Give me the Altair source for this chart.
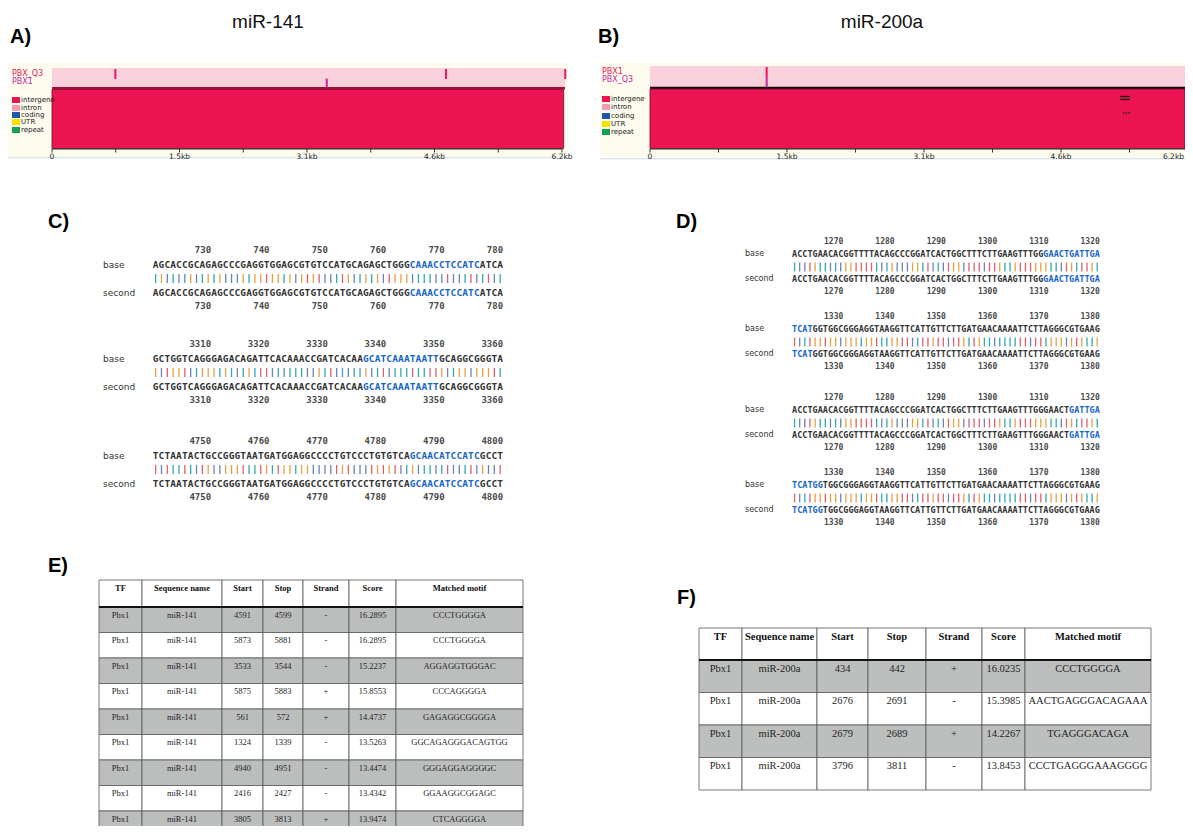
import altair as alt
import pandas as pd

# ---------------- values ----------------
A_TITLE = "miR-141"
B_TITLE = "miR-200a"
PANEL_LETTERS = ["A)", "B)", "C)", "D)", "E)", "F)"]

KB_TICKS = [0, 0.775, 1.55, 2.325, 3.1, 3.875, 4.65, 5.425, 6.2]
KB_LABEL_POS = [0, 1.55, 3.1, 4.65, 6.2]
KB_LABELS = ["0", "1.5kb", "3.1kb", "4.6kb", "6.2kb"]

LEGEND_NAMES = ["intergene", "intron", "coding", "UTR", "repeat"]
LEGEND_COLORS = ["#ec1452", "#f39bb6", "#1f58a8", "#f3e300", "#12a150"]
TRACK_COLORS = ["#e8175d", "#c42a9c"]

A_TRACKS = ["PBX_Q3", "PBX1"]
A_SITES_KB = [[0.77, 4.79, 6.24], [3.34]]
B_TRACKS = ["PBX1", "PBX_Q3"]
B_SITES_KB = [[1.32], [1.32]]
B_REPEAT_KB = [5.32, 5.43]
B_DOTS_KB = [5.36, 5.39, 5.42]

C_STARTS = [721, 3301, 4741]
C_SEQS = [
    "AGCACCGCAGAGCCCGAGGTGGAGCGTGTCCATGCAGAGCTGGGCAAACCTCCATCATCA",
    "GCTGGTCAGGGAGACAGATTCACAAACCGATCACAAGCATCAAATAATTGCAGGCGGGTA",
    "TCTAATACTGCCGGGTAATGATGGAGGCCCCTGTCCCTGTGTCAGCAACATCCATCGCCT",
]
C_HIGHLIGHT = [(44, 56), (36, 49), (44, 56)]
C_NUMBERS = [
    [730, 740, 750, 760, 770, 780],
    [3310, 3320, 3330, 3340, 3350, 3360],
    [4750, 4760, 4770, 4780, 4790, 4800],
]

D_STARTS = [1261, 1321, 1261, 1321]
D_SEQS = [
    "ACCTGAACACGGTTTTACAGCCCGGATCACTGGCTTTCTTGAAGTTTGGGAACTGATTGA",
    "TCATGGTGGCGGGAGGTAAGGTTCATTGTTCTTGATGAACAAAATTCTTAGGGCGTGAAG",
    "ACCTGAACACGGTTTTACAGCCCGGATCACTGGCTTTCTTGAAGTTTGGGAACTGATTGA",
    "TCATGGTGGCGGGAGGTAAGGTTCATTGTTCTTGATGAACAAAATTCTTAGGGCGTGAAG",
]
D_HIGHLIGHT = [(49, 60), (0, 4), (54, 60), (0, 6)]
D_NUMBERS = [
    [1270, 1280, 1290, 1300, 1310, 1320],
    [1330, 1340, 1350, 1360, 1370, 1380],
    [1270, 1280, 1290, 1300, 1310, 1320],
    [1330, 1340, 1350, 1360, 1370, 1380],
]
BASE_COLORS = {"A": "#2fa9b4", "C": "#6b84b4", "G": "#e8a13f", "T": "#e0606f"}

TABLE_HEADER = ["TF", "Sequence name", "Start", "Stop", "Strand", "Score", "Matched motif"]
E_ROWS = [
    ["Pbx1", "miR-141", "4591", "4599", "-", "16.2895", "CCCTGGGGA"],
    ["Pbx1", "miR-141", "5873", "5881", "-", "16.2895", "CCCTGGGGA"],
    ["Pbx1", "miR-141", "3533", "3544", "-", "15.2237", "AGGAGGTGGGAC"],
    ["Pbx1", "miR-141", "5875", "5883", "+", "15.8553", "CCCAGGGGA"],
    ["Pbx1", "miR-141", "561", "572", "+", "14.4737", "GAGAGGCGGGGA"],
    ["Pbx1", "miR-141", "1324", "1339", "-", "13.5263", "GGCAGAGGGACAGTGG"],
    ["Pbx1", "miR-141", "4940", "4951", "-", "13.4474", "GGGAGGAGGGGC"],
    ["Pbx1", "miR-141", "2416", "2427", "-", "13.4342", "GGAAGGCGGAGC"],
    ["Pbx1", "miR-141", "3805", "3813", "+", "13.9474", "CTCAGGGGA"],
]
F_ROWS = [
    ["Pbx1", "miR-200a", "434", "442", "+", "16.0235", "CCCTGGGGA"],
    ["Pbx1", "miR-200a", "2676", "2691", "-", "15.3985", "AACTGAGGGACAGAAA"],
    ["Pbx1", "miR-200a", "2679", "2689", "+", "14.2267", "TGAGGGACAGA"],
    ["Pbx1", "miR-200a", "3796", "3811", "-", "13.8453", "CCCTGAGGGAAAGGGG"],
]

# ---------------- layout (page pixels) ----------------
LEFT_X0, RIGHT_X0 = 8, 598
LEFT_W, RIGHT_W = 590, 587
ROW_Y0 = [8, 168, 530]
ROW_H = [160, 362, 296]

SANS = "Liberation Sans"
MONO = "DejaVu Sans Mono"
SERIF = "Liberation Serif"


def qx(domain):
    return alt.Scale(domain=list(domain), nice=False, zero=False)


def qy(domain):
    return alt.Scale(domain=list(domain), nice=False, zero=False, reverse=True)


def enc_xy(sx, sy):
    return dict(x=alt.X("x:Q", scale=sx, axis=None), y=alt.Y("y:Q", scale=sy, axis=None))


def rect_layer(rows, sx, sy, **mk):
    return alt.Chart(pd.DataFrame(rows)).mark_rect(**mk).encode(
        x2="x2:Q", y2="y2:Q", color=alt.Color("c:N", scale=None), **enc_xy(sx, sy))


def text_layer(rows, sx, sy, **mk):
    return alt.Chart(pd.DataFrame(rows)).mark_text(**mk).encode(
        text="t:N", color=alt.Color("c:N", scale=None), **enc_xy(sx, sy))


def vrule_layer(rows, sx, sy, **mk):
    return alt.Chart(pd.DataFrame(rows)).mark_rule(**mk).encode(
        y2="y2:Q", color=alt.Color("c:N", scale=None), **enc_xy(sx, sy))


def hrule_layer(rows, sx, sy, **mk):
    return alt.Chart(pd.DataFrame(rows)).mark_rule(**mk).encode(
        x2="x2:Q", color=alt.Color("c:N", scale=None), **enc_xy(sx, sy))


def point_layer(rows, sx, sy, **mk):
    return alt.Chart(pd.DataFrame(rows)).mark_square(**mk).encode(
        color=alt.Color("c:N", scale=None), **enc_xy(sx, sy))


# ---------------- genome track panels (A, B) ----------------
A_CFG = dict(px0=LEFT_X0, py0=ROW_Y0[0], W=LEFT_W, H=ROW_H[0], zero_px=52, ppk=510 / 6.2,
             bg=(8, 568, 63, 157), pink_x1=565, pink=(68, 87), strip=(87, 89.5),
             strip_color="#a90b3a", body=(89.5, 148.5), body_x1=6.22, axis_y=149,
             label_x=12, label_ys=[74, 82], site_rows=[(69, 79), (78.5, 87)],
             legend_x=12, legend_ys=[100, 108, 115, 122, 130], title_x=268, letter_x=10)
B_CFG = dict(px0=RIGHT_X0, py0=ROW_Y0[0], W=RIGHT_W, H=ROW_H[0], zero_px=650, ppk=137 / 1.55,
             bg=(600, 1185, 62, 158), pink_x1=1185, pink=(66, 87), strip=(86.8, 89),
             strip_color="#1a0a10", body=(89, 148.5), body_x1=None, axis_y=149,
             label_x=602, label_ys=[72, 80], site_rows=[(67, 77), (77, 87)],
             legend_x=602, legend_ys=[99, 107, 116, 124, 132], title_x=882, letter_x=598)


def track_panel(cfg, title, letter, tracks, sites, repeat_kb=None, dots_kb=None):
    z, ppk = cfg["zero_px"], cfg["ppk"]

    def kb(px):
        return (px - z) / ppk

    x0, y0, W, H = cfg["px0"], cfg["py0"], cfg["W"], cfg["H"]
    kmin, kmax = kb(x0), kb(x0 + W)
    sx, sy = qx([kmin, kmax]), qy([y0, y0 + H])
    bx0, bx1, by0, by1 = cfg["bg"]
    frame = [
        dict(x=kb(bx0), x2=kb(bx1), y=by0, y2=by1, c="#fdfbee"),
        dict(x=kb(bx0), x2=kb(bx1), y=by1, y2=by1 + 1.5, c="#dfe5ef"),
        dict(x=0, x2=kb(cfg["pink_x1"]), y=cfg["pink"][0], y2=cfg["pink"][1], c="#f8d1dd"),
        dict(x=0, x2=kb(cfg["pink_x1"]), y=cfg["strip"][0], y2=cfg["strip"][1], c=cfg["strip_color"]),
    ]
    body_x1 = cfg["body_x1"] if cfg["body_x1"] is not None else kmax
    body = [dict(x=0, x2=body_x1, y=cfg["body"][0], y2=cfg["body"][1], c=LEGEND_COLORS[0])]
    ay = cfg["axis_y"]
    axis_line = [dict(x=0, x2=min(6.2, kmax), y=ay, c="#333333")]
    ticks = [dict(x=k, y=ay, y2=ay + 3.5, c="#333333") for k in KB_TICKS]
    # labels whose centre would run off the panel are right-aligned at its edge
    lab_in, lab_edge = [], []
    for k, t in zip(KB_LABEL_POS, KB_LABELS):
        if k + 10 / ppk <= kmax:
            lab_in.append(dict(x=k, y=ay + 7.5, t=t, c="#222222"))
        else:
            lab_edge.append(dict(x=kmax - 1 / ppk, y=ay + 7.5, t=t, c="#222222"))
    site_marks = []
    for r, ks in enumerate(sites):
        for k in ks:
            site_marks.append(dict(x=k, y=cfg["site_rows"][r][0], y2=cfg["site_rows"][r][1], c=TRACK_COLORS[r]))
    track_labels = [dict(x=kb(cfg["label_x"]), y=ly, t=t, c=TRACK_COLORS[r])
                    for r, (t, ly) in enumerate(zip(tracks, cfg["label_ys"]))]
    lx = cfg["legend_x"]
    leg_boxes = [dict(x=kb(lx), x2=kb(lx + 8), y=ly - 3, y2=ly + 3, c=c)
                 for ly, c in zip(cfg["legend_ys"], LEGEND_COLORS)]
    leg_text = [dict(x=kb(lx + 9), y=ly, t=n, c="#222222")
                for ly, n in zip(cfg["legend_ys"], LEGEND_NAMES)]
    title_rows = [dict(x=kb(cfg["title_x"]), y=22, t=title, c="#111111")]
    letter_rows = [dict(x=kb(cfg["letter_x"]), y=37, t=letter, c="#000000")]

    layers = [
        rect_layer(frame, sx, sy, clip=True),
        rect_layer(body, sx, sy, clip=True, stroke="#6a0c26", strokeWidth=0.8),
        hrule_layer(axis_line, sx, sy, clip=True, strokeWidth=1),
        vrule_layer(ticks, sx, sy, clip=True, strokeWidth=1),
        text_layer(lab_in, sx, sy, font="DejaVu Sans", fontSize=7.5, baseline="middle"),
        vrule_layer(site_marks, sx, sy, clip=True, strokeWidth=2),
        text_layer(track_labels, sx, sy, font="DejaVu Sans", fontSize=8, align="left", baseline="middle"),
        rect_layer(leg_boxes, sx, sy),
        text_layer(leg_text, sx, sy, font="DejaVu Sans", fontSize=7, align="left", baseline="middle"),
        text_layer(title_rows, sx, sy, font=SANS, fontSize=19, baseline="middle"),
        text_layer(letter_rows, sx, sy, font=SANS, fontSize=20, fontWeight="bold", align="left", baseline="middle"),
    ]
    if lab_edge:
        layers.append(text_layer(lab_edge, sx, sy, font="DejaVu Sans", fontSize=7.5, align="right",
                                 baseline="middle"))
    if repeat_kb:
        rep = [dict(x=repeat_kb[0], x2=repeat_kb[1], y=yy, c="#111111") for yy in (96.5, 99.5)]
        layers.append(hrule_layer(rep, sx, sy, strokeWidth=1.3))
    if dots_kb:
        dots = [dict(x=k, y=113, c="#222222") for k in dots_kb]
        layers.append(point_layer(dots, sx, sy, size=2, filled=True, opacity=1))
    return alt.layer(*layers).properties(width=W, height=H)


# ---------------- alignment panels (C, D) ----------------
def align_panel(px0, py0, W, H, seq_x0, cw, starts, seqs, hls, nums, tops, offs,
                label_x, fs, nfs, letter, letter_xy):
    def cx(px):
        return (px - seq_x0) / cw

    sx, sy = qx([cx(px0), cx(px0 + W)]), qy([py0, py0 + H])
    norm, hl, bars, numbers, labels = [], [], [], [], []
    for start, seq, (h0, h1), nlist, top in zip(starts, seqs, hls, nums, tops):
        for i, ch in enumerate(seq):
            for yy in (top + offs["base"], top + offs["second"]):
                (hl if h0 <= i < h1 else norm).append(
                    dict(x=i + 0.5, y=yy, t=ch, c="#1565c8" if h0 <= i < h1 else "#333333"))
            bars.append(dict(x=i + 0.5, y=top + offs["bar0"], y2=top + offs["bar1"], c=BASE_COLORS[ch]))
        for p in nlist:
            for yy in (top, top + offs["num_bot"]):
                numbers.append(dict(x=p - start + 1, y=yy, t=str(p), c="#4a4a4a"))
        labels.append(dict(x=cx(label_x), y=top + offs["base"], t="base", c="#333333"))
        labels.append(dict(x=cx(label_x), y=top + offs["second"], t="second", c="#333333"))
    letter_rows = [dict(x=cx(letter_xy[0]), y=letter_xy[1], t=letter, c="#000000")]
    layers = [
        text_layer(norm, sx, sy, font=MONO, fontSize=fs, fontWeight="bold", baseline="middle"),
        text_layer(hl, sx, sy, font=MONO, fontSize=fs, fontWeight="bold", baseline="middle"),
        vrule_layer(bars, sx, sy, strokeWidth=1.3),
        text_layer(numbers, sx, sy, font=MONO, fontSize=nfs, fontWeight="bold", align="right", baseline="middle"),
        text_layer(labels, sx, sy, font="DejaVu Sans", fontSize=nfs, align="left", baseline="middle"),
        text_layer(letter_rows, sx, sy, font=SANS, fontSize=20, fontWeight="bold", align="left", baseline="middle"),
    ]
    return alt.layer(*layers).properties(width=W, height=H)


# ---------------- table panels (E, F) ----------------
def table_panel(px0, py0, W, H, edges, top, head_h, row_h, header, rows, fs, gray, tdy, letter, letter_xy):
    sx, sy = qx([px0, px0 + W]), qy([py0, py0 + H])
    cells, htext, btext = [], [], []
    for j in range(len(header)):
        mid = (edges[j] + edges[j + 1]) / 2
        cells.append(dict(x=edges[j], x2=edges[j + 1], y=top, y2=top + head_h, c="#ffffff"))
        htext.append(dict(x=mid, y=top + tdy, t=header[j], c="#111111"))
    for i, row in enumerate(rows):
        rt = top + head_h + i * row_h
        for j, v in enumerate(row):
            mid = (edges[j] + edges[j + 1]) / 2
            cells.append(dict(x=edges[j], x2=edges[j + 1], y=rt, y2=rt + row_h,
                              c=gray if i % 2 == 0 else "#ffffff"))
            btext.append(dict(x=mid, y=rt + tdy, t=v, c="#1e1e1e"))
    thick = [dict(x=edges[0], x2=edges[-1], y=top + head_h, c="#111111")]
    letter_rows = [dict(x=letter_xy[0], y=letter_xy[1], t=letter, c="#000000")]
    layers = [
        rect_layer(cells, sx, sy, clip=True, stroke="#555555", strokeWidth=0.8),
        hrule_layer(thick, sx, sy, clip=True, strokeWidth=2),
        text_layer(htext, sx, sy, clip=True, font=SERIF, fontSize=fs, fontWeight="bold", baseline="middle"),
        text_layer(btext, sx, sy, clip=True, font=SERIF, fontSize=fs, baseline="middle"),
        text_layer(letter_rows, sx, sy, font=SANS, fontSize=20, fontWeight="bold", align="left", baseline="middle"),
    ]
    return alt.layer(*layers).properties(width=W, height=H)


panel_a = track_panel(A_CFG, A_TITLE, PANEL_LETTERS[0], A_TRACKS, A_SITES_KB)
panel_b = track_panel(B_CFG, B_TITLE, PANEL_LETTERS[1], B_TRACKS, B_SITES_KB, B_REPEAT_KB, B_DOTS_KB)

panel_c = align_panel(LEFT_X0, ROW_Y0[1], LEFT_W, ROW_H[1], 152.7, 5.84, C_STARTS, C_SEQS, C_HIGHLIGHT,
                      C_NUMBERS, [250, 344, 441],
                      dict(base=15, bar0=24, bar1=33, second=43, num_bot=56),
                      103, 9.5, 9, PANEL_LETTERS[2], (48, 222))
panel_d = align_panel(RIGHT_X0, ROW_Y0[1], RIGHT_W, ROW_H[1], 792, 5.13, D_STARTS, D_SEQS, D_HIGHLIGHT,
                      D_NUMBERS, [242, 317, 398, 473],
                      dict(base=12, bar0=20.5, bar1=29.5, second=37, num_bot=50),
                      745, 8.5, 8, PANEL_LETTERS[3], (676, 222))

panel_e = table_panel(LEFT_X0, ROW_Y0[2], LEFT_W, ROW_H[2], [99, 142, 222, 263, 303, 349, 396, 523],
                      580, 27, 25.5, TABLE_HEADER, E_ROWS, 8.5, "#bcbebe", 7.5, PANEL_LETTERS[4], (48, 566))
panel_f = table_panel(RIGHT_X0, ROW_Y0[2], RIGHT_W, ROW_H[2], [699, 742, 817, 868, 926, 982, 1025, 1151],
                      628, 32, 32.5, TABLE_HEADER, F_ROWS, 10.5, "#bdbfbf", 8.5, PANEL_LETTERS[5], (677, 598))

row1 = alt.hconcat(panel_a, panel_b, spacing=0, bounds="flush")
row2 = alt.hconcat(panel_c, panel_d, spacing=0, bounds="flush")
row3 = alt.hconcat(panel_e, panel_f, spacing=0, bounds="flush")

chart = (
    alt.vconcat(row1, row2, row3, spacing=0)
    .properties(padding=0, background="#ffffff")
    .configure_view(stroke=None)
)

chart.save("out.html", embed_options={"renderer": "svg", "actions": False})
